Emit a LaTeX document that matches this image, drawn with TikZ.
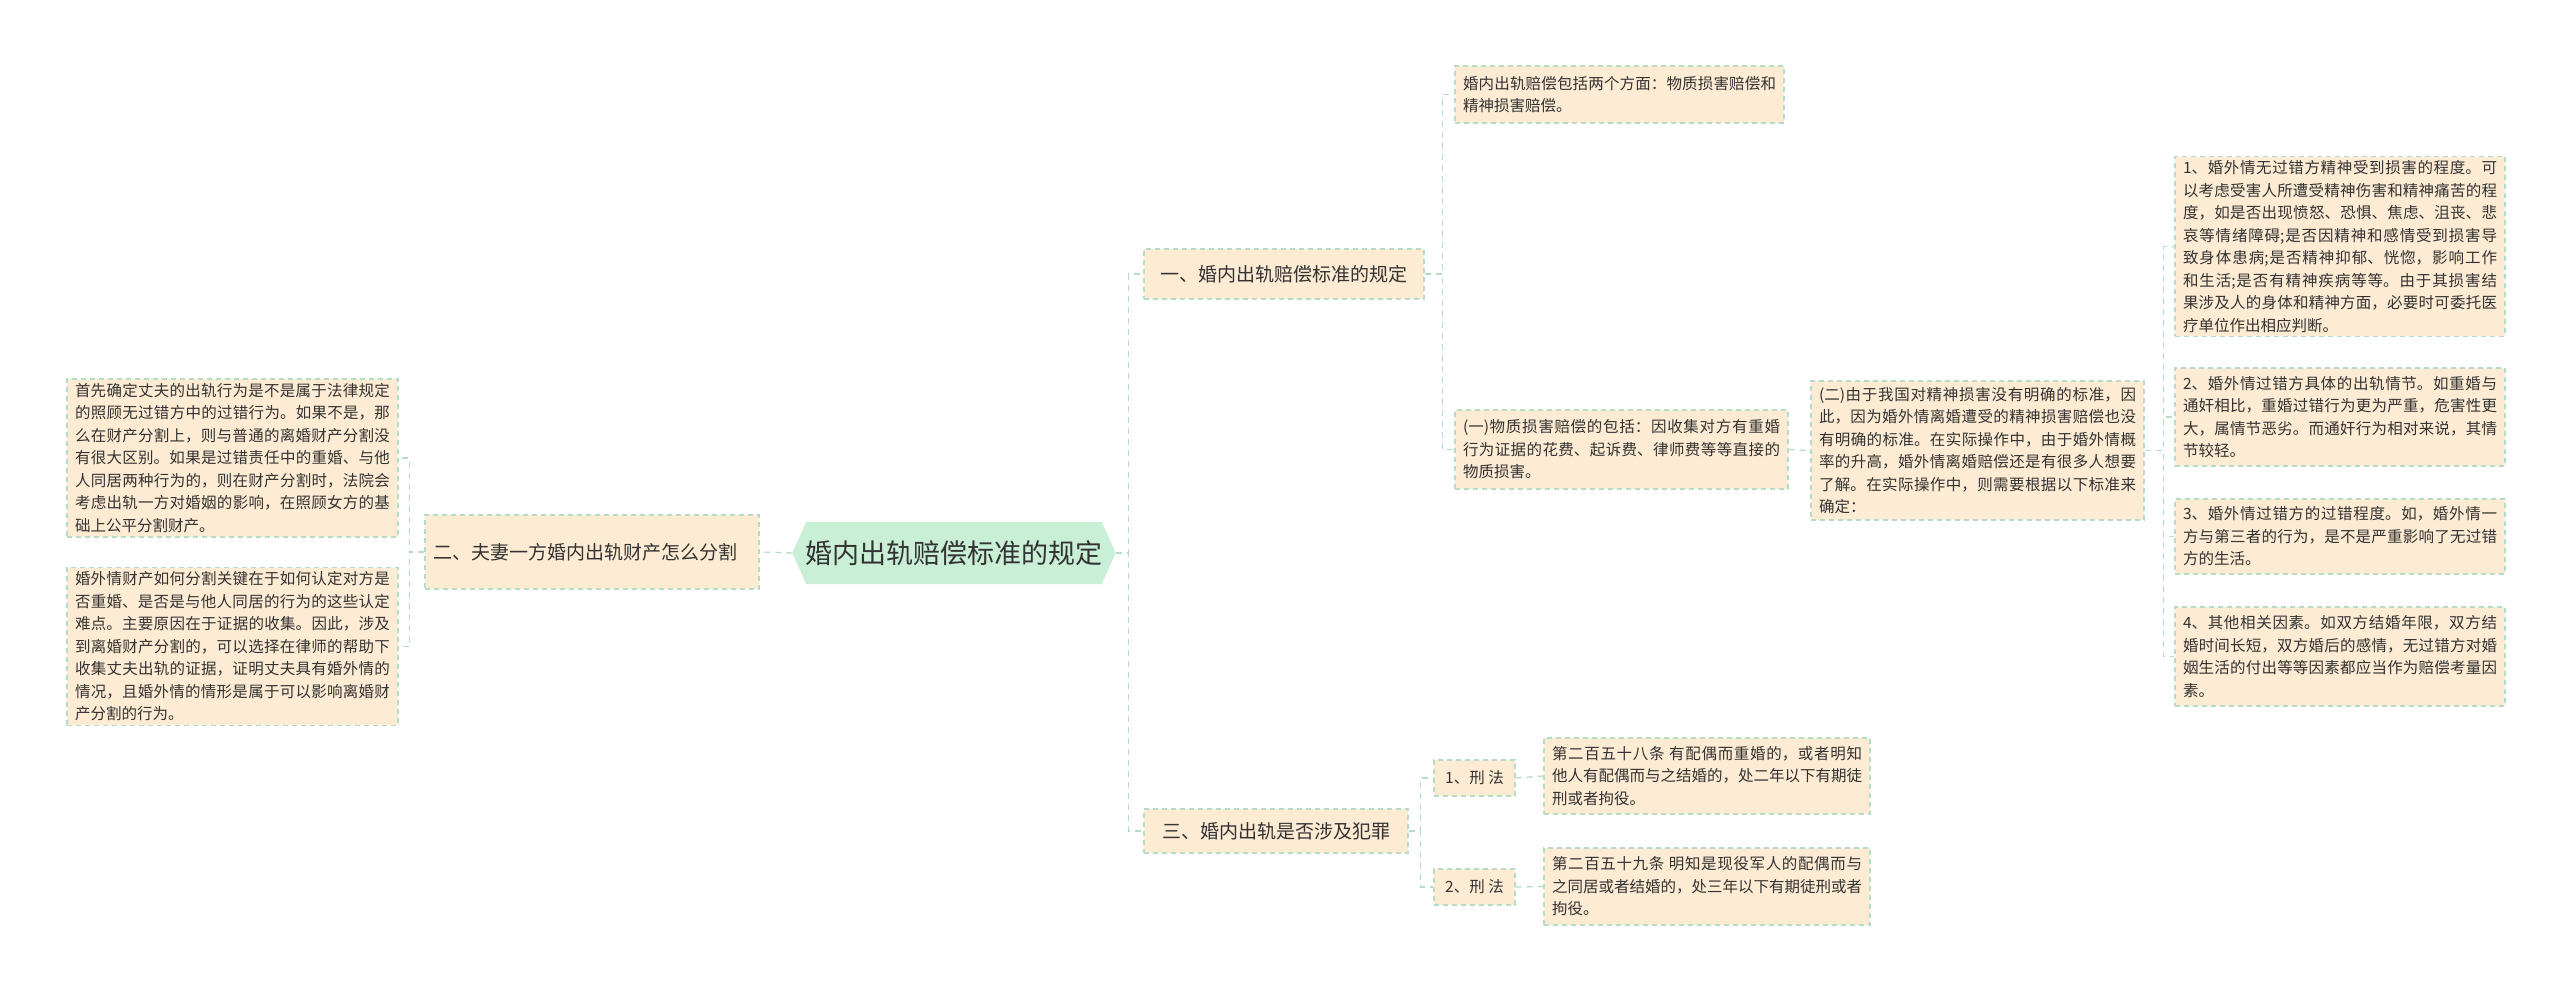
\documentclass[tikz,border=0pt]{standalone}
\usepackage{fontspec}
\usetikzlibrary{backgrounds}
\newfontfamily\cjkw{Noto Sans CJK SC}
\XeTeXlinebreaklocale "zh"
\XeTeXlinebreakskip=0pt plus 1pt
\definecolor{bg}{HTML}{FDEBD3}
\definecolor{bd}{HTML}{B5DCC4}
\definecolor{rootbg}{HTML}{C9EFD6}
\definecolor{tx}{HTML}{333333}
\tikzset{
  box/.style={draw=bd, dashed, dash pattern=on 5pt off 4pt, line width=1.2pt, fill=bg, text=tx, inner xsep=8pt, inner ysep=4pt, align=justify, anchor=center},
  small/.style={box, font=\cjkw\fontsize{15.5}{22.5}\selectfont},
  branch/.style={box, align=left, font=\cjkw\fontsize{19}{28}\selectfont},
  conn/.style={draw=bd, dashed, dash pattern=on 6pt off 5pt, line width=1.3pt},
}
\begin{document}
\begin{tikzpicture}[x=1pt,y=-1pt]
\useasboundingbox (0,0) rectangle (2560,988);
% root
\node[text=tx, font=\cjkw\fontsize{27}{32}\selectfont, minimum width=323pt, minimum height=62pt] (root) at (954,553) {婚内出轨赔偿标准的规定};
\begin{scope}[on background layer]
\fill[rootbg] (root.west) -- ([xshift=14pt]root.north west) -- ([xshift=-14pt]root.north east) -- (root.east) -- ([xshift=-14pt]root.south east) -- ([xshift=14pt]root.south west) -- cycle;
\end{scope}
% left
\node[branch, text width=318pt, minimum height=74pt] (n2) at (592,552) {二、夫妻一方婚内出轨财产怎么分割};
\node[small, text width=315pt, minimum height=158pt] (l1) at (232.5,458) {首先确定丈夫的出轨行为是不是属于法律规定的照顾无过错方中的过错行为。如果不是，那么在财产分割上，则与普通的离婚财产分割没有很大区别。如果是过错责任中的重婚、与他人同居两种行为的，则在财产分割时，法院会考虑出轨一方对婚姻的影响，在照顾女方的基础上公平分割财产。};
\node[small, text width=315pt, minimum height=157pt] (l2) at (232.5,646.5) {婚外情财产如何分割关键在于如何认定对方是否重婚、是否是与他人同居的行为的这些认定难点。主要原因在于证据的收集。因此，涉及到离婚财产分割的，可以选择在律师的帮助下收集丈夫出轨的证据，证明丈夫具有婚外情的情况，且婚外情的情形是属于可以影响离婚财产分割的行为。};
% right branches
\node[branch, minimum width=280pt, minimum height=50pt] (n1) at (1284,274) {一、婚内出轨赔偿标准的规定};
\node[branch, minimum width=264pt, minimum height=44pt] (n3) at (1276,831) {三、婚内出轨是否涉及犯罪};
% n1 children
\node[small, text width=313pt, minimum height=57pt] (t1) at (1619.5,94.5) {婚内出轨赔偿包括两个方面：物质损害赔偿和精神损害赔偿。};
\node[small, text width=317pt, minimum height=79pt] (y1) at (1621.5,449.5) {(一)物质损害赔偿的包括：因收集对方有重婚行为证据的花费、起诉费、律师费等等直接的物质损害。};
\node[small, text width=317pt, minimum height=139pt] (y2) at (1977.5,450.5) {(二)由于我国对精神损害没有明确的标准，因此，因为婚外情离婚遭受的精神损害赔偿也没有明确的标准。在实际操作中，由于婚外情概率的升高，婚外情离婚赔偿还是有很多人想要了解。在实际操作中，则需要根据以下标准来确定：};
% items
\node[small, text width=314pt, minimum height=177pt] (i1) at (2340,246.5) {1、婚外情无过错方精神受到损害的程度。可以考虑受害人所遭受精神伤害和精神痛苦的程度，如是否出现愤怒、恐惧、焦虑、沮丧、悲哀等情绪障碍;是否因精神和感情受到损害导致身体患病;是否精神抑郁、恍惚，影响工作和生活;是否有精神疾病等等。由于其损害结果涉及人的身体和精神方面，必要时可委托医疗单位作出相应判断。};
\node[small, text width=314pt, minimum height=98pt] (i2) at (2340,417) {2、婚外情过错方具体的出轨情节。如重婚与通奸相比，重婚过错行为更为严重，危害性更大，属情节恶劣。而通奸行为相对来说，其情节较轻。};
\node[small, text width=314pt, minimum height=75pt] (i3) at (2340,536.5) {3、婚外情过错方的过错程度。如，婚外情一方与第三者的行为，是不是严重影响了无过错方的生活。};
\node[small, text width=314pt, minimum height=99pt] (i4) at (2340,656.5) {4、其他相关因素。如双方结婚年限，双方结婚时间长短，双方婚后的感情，无过错方对婚姻生活的付出等等因素都应当作为赔偿考量因素。};
% n3 children
\node[small, align=center, minimum width=81pt, minimum height=36pt, inner xsep=4pt] (x1) at (1474.5,778) {1、刑 法};
\node[small, align=center, minimum width=81pt, minimum height=36pt, inner xsep=4pt] (x2) at (1474.5,887) {2、刑 法};
\node[small, text width=310pt, minimum height=76pt] (z1) at (1707,776) {第二百五十八条 有配偶而重婚的，或者明知他人有配偶而与之结婚的，处二年以下有期徒刑或者拘役。};
\node[small, text width=310pt, minimum height=77pt] (z2) at (1707,886.5) {第二百五十九条 明知是现役军人的配偶而与之同居或者结婚的，处三年以下有期徒刑或者拘役。};
% connectors
\draw[conn] (root.west) -- (n2.east);
\draw[conn] (n2.west) -| ([xshift=11pt]l1.east) -- (l1.east);
\draw[conn] (n2.west) -| ([xshift=11pt]l2.east) -- (l2.east);
\draw[conn] (root.east) -| ([xshift=-15pt]n1.west) -- (n1.west);
\draw[conn] (root.east) -| ([xshift=-15pt]n3.west) -- (n3.west);
\draw[conn] (n1.east) -| ([xshift=-12pt]t1.west) -- (t1.west);
\draw[conn] (n1.east) -| ([xshift=-12pt]y1.west) -- (y1.west);
\draw[conn] (y1.east) -- (y2.west);
\foreach \i in {i1,i2,i3,i4}{\draw[conn] (y2.east) -| ([xshift=-11pt]\i.west) -- (\i.west);}
\draw[conn] (n3.east) -| ([xshift=-13pt]x1.west) -- (x1.west);
\draw[conn] (n3.east) -| ([xshift=-13pt]x2.west) -- (x2.west);
\draw[conn] (x1.east) -- (z1.west);
\draw[conn] (x2.east) -- (z2.west);
\end{tikzpicture}
\end{document}
